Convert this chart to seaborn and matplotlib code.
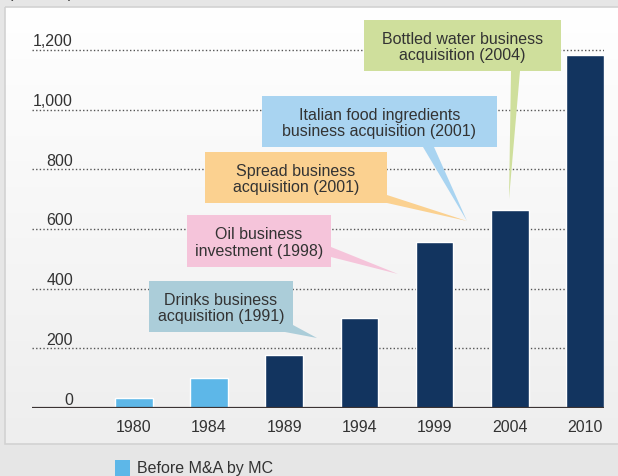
import numpy as np
import pandas as pd
import matplotlib
matplotlib.use("Agg")
import matplotlib.pyplot as plt
import seaborn as sns
from matplotlib.patches import Rectangle, Polygon

# data
years = ["1980", "1984", "1989", "1994", "1999", "2004", "2010"]
values = [35, 100, 178, 302, 556, 664, 1183]
periods = ["Before M&A by MC", "Before M&A by MC",
           "After M&A by MC", "After M&A by MC", "After M&A by MC",
           "After M&A by MC", "After M&A by MC"]
y_ticks = [0, 200, 400, 600, 800, 1000, 1200]
y_tick_labels = ["0", "200", "400", "600", "800", "1,000", "1,200"]
unit_label = "(¥ billion)"

# callouts: text, colour, box (px: x0, y0, x1, y1), wedge base (px), tip (px)
callouts = [
    ("Drinks business\nacquisition (1991)", "#abcdd9",
     (149, 282, 293, 333), [(293, 326), (285, 333)], (317, 339)),
    ("Oil business\ninvestment (1998)", "#f5c4da",
     (187, 216, 331, 268), [(331, 248), (331, 258)], (398, 275)),
    ("Spread business\nacquisition (2001)", "#fbd190",
     (205, 153, 387, 204), [(387, 196), (387, 204)], (467, 222)),
    ("Italian food ingredients\nbusiness acquisition (2001)", "#a9d4f1",
     (262, 97, 497, 148), [(423, 148), (434, 148)], (467, 222)),
    ("Bottled water business\nacquisition (2004)", "#cfdf9c",
     (364, 21, 561, 72), [(511, 72), (520, 72)], (509, 200)),
]

before_color = "#5db7e8"
after_color = "#12345f"
text_color = "#333333"
fs = 11.5

W, H = 618, 477
sns.set_theme(style="white")
plt.rcParams["font.family"] = ["Liberation Sans", "DejaVu Sans"]

fig = plt.figure(figsize=(W / 100, H / 100), dpi=100)
fig.patch.set_facecolor("#e6e6e6")

# background panel with a soft vertical gradient
bg = fig.add_axes([0, 0, 1, 1], zorder=0)
bg.set_xlim(0, W)
bg.set_ylim(H, 0)
bg.axis("off")
grad = np.linspace(0, 1, 256).reshape(-1, 1)
cmap = matplotlib.colors.LinearSegmentedColormap.from_list("g", ["#ffffff", "#eeeeee"])
bg.imshow(grad, cmap=cmap, extent=(5, 625, 445, 8), aspect="auto", zorder=1)
bg.add_patch(Rectangle((5, 8), 620, 437, fill=False, ec="#d2d2d2", lw=1.2, zorder=2))
# unit label sits mostly above the top edge, as in the original crop
bg.text(8, -2, unit_label, fontsize=fs, color=text_color, va="baseline", ha="left")

# main chart
ax = fig.add_axes([32 / W, 1 - 409 / H, 572 / W, (409 - 36) / H], zorder=1)
ax.patch.set_alpha(0)
df = pd.DataFrame({"year": years, "value": values, "period": periods})
sns.barplot(data=df, x="year", y="value", hue="period",
            palette={"Before M&A by MC": before_color, "After M&A by MC": after_color},
            dodge=False, width=0.5, saturation=1, legend=False, ax=ax, zorder=3)
ax.set_xlim(-1.356, 6.253)
ax.set_ylim(0, 1250)
ax.set_xlabel("")
ax.set_ylabel("")
for s in ax.spines.values():
    s.set_visible(False)
ax.set_yticks(y_ticks)
ax.set_yticklabels([])
ax.tick_params(axis="y", length=0)
ax.tick_params(axis="x", length=0, pad=8, labelsize=fs, labelcolor=text_color)
for v in y_ticks[1:]:
    ax.axhline(v, color="#555555", lw=1, ls=(0, (1, 1.6)), zorder=1)
ax.axhline(0, color="#3b3333", lw=1.6, zorder=4)
trans = matplotlib.transforms.blended_transform_factory(fig.transFigure, ax.transData)
for v, lab in zip(y_ticks, y_tick_labels):
    ax.text(73 / W, v + 15, lab, transform=trans, ha="right", va="baseline",
            fontsize=fs, color=text_color)

# foreground overlay for callouts and legend
fg = fig.add_axes([0, 0, 1, 1], zorder=2)
fg.set_xlim(0, W)
fg.set_ylim(H, 0)
fg.axis("off")
for txt, col, (x0, y0, x1, y1), base, tip in callouts:
    fg.add_patch(Polygon(base + [tip], closed=True, fc=col, ec="none", zorder=1))
    fg.add_patch(Rectangle((x0, y0), x1 - x0, y1 - y0, fc=col, ec="none", zorder=2))
    fg.text((x0 + x1) / 2, (y0 + y1) / 2 + 1, txt, ha="center", va="center",
            fontsize=fs, color=text_color, linespacing=1.15, zorder=3)

fg.add_patch(Rectangle((115, 461), 15, 16, fc=before_color, ec="none"))
fg.text(137, 469, periods[0], fontsize=fs, color=text_color, ha="left", va="center")

fig.savefig("out.png", dpi=100, facecolor=fig.get_facecolor())
